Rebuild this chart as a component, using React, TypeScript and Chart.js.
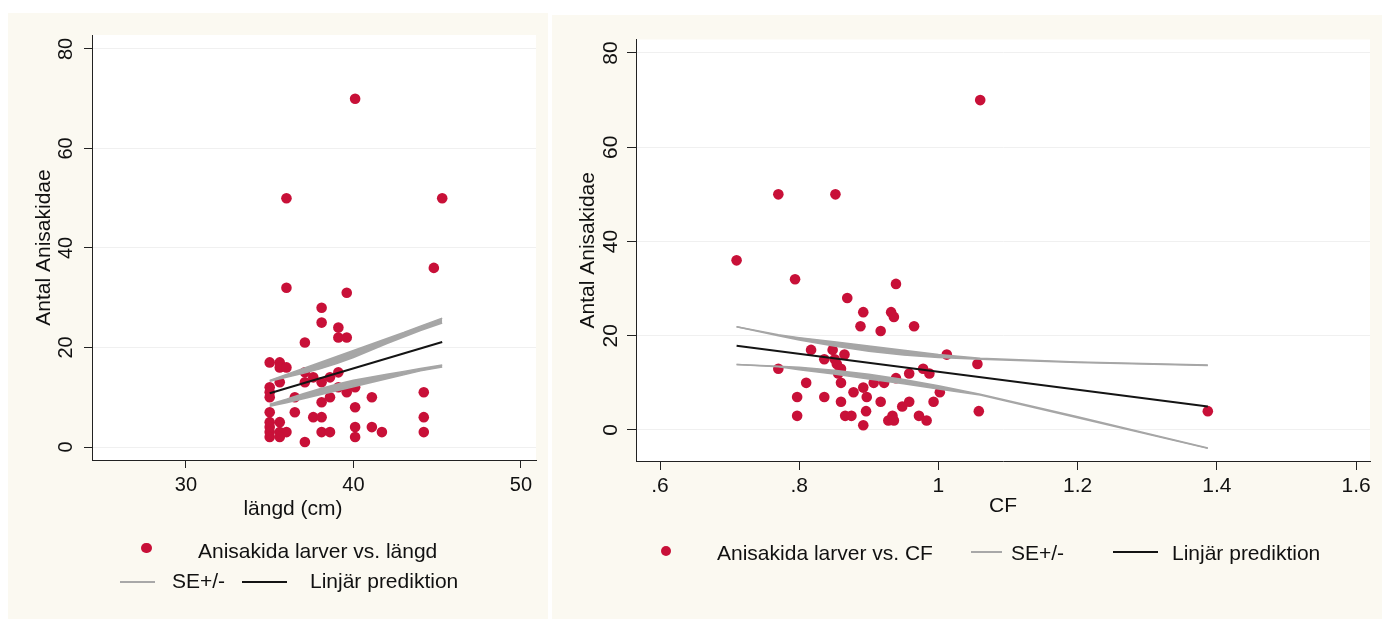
import React, { useEffect, useRef } from 'react';
import { Chart, registerables } from 'chart.js';

Chart.register(...registerables);

// ---------- Left chart data (längd vs Antal) ----------
const LEFT_X = [40.1, 36.0, 45.3, 44.8, 36.0, 39.6, 38.1, 38.1, 39.1, 39.1, 39.6, 37.1,
  35.0, 35.6, 35.6, 36.0, 37.1, 39.1, 37.6, 38.6, 37.1, 35.6, 38.1,
  35.0, 35.0, 35.0, 39.1, 39.6, 40.1, 39.6, 36.5, 38.6, 41.1, 44.2, 38.1, 40.1,
  35.0, 36.5, 37.6, 38.1, 44.2, 35.0, 35.6, 35.0, 40.1, 41.1,
  35.0, 35.6, 36.0, 38.1, 38.6, 41.7, 44.2, 35.0, 35.6, 40.1, 37.1];
const LEFT_Y = [70, 50, 50, 36, 32, 31, 28, 25, 24, 22, 22, 21,
  17, 17, 16, 16, 15, 15, 14, 14, 13, 13, 13,
  12, 11, 10, 12, 12, 12, 11, 10, 10, 10, 11, 9, 8,
  7, 7, 6, 6, 6, 5, 5, 4, 4, 4,
  3, 3, 3, 3, 3, 3, 3, 2, 2, 2, 1];
const LEFT_FIT_X = [35.0, 45.3];
const LEFT_FIT_Y = [10.8, 21.1];
const LEFT_BAND_X = [35, 36, 37, 38, 39, 40, 41, 42, 43, 44, 45.3];
const LEFT_UP_OUTER = [13.4, 14.6, 15.8, 17.0, 18.2, 19.4, 20.6, 21.8, 23.0, 24.3, 25.9];
const LEFT_UP_INNER = [13.2, 14.0, 14.8, 15.7, 16.8, 18.0, 19.4, 20.8, 22.1, 23.4, 24.9];
const LEFT_LO_INNER = [8.6, 9.6, 10.7, 11.7, 12.6, 13.4, 14.0, 14.6, 15.2, 15.8, 16.5];
const LEFT_LO_OUTER = [8.2, 8.9, 9.7, 10.5, 11.3, 12.1, 12.9, 13.7, 14.5, 15.3, 16.1];
const LEFT_X_TICKS = [30, 40, 50];
const LEFT_Y_TICKS = [0, 20, 40, 60, 80];

// ---------- Right chart data (CF vs Antal) ----------
const RIGHT_X = [1.06, 0.77, 0.852, 0.71, 0.794, 0.939, 0.869, 0.892, 0.932, 0.936, 0.888, 0.965, 0.917,
  0.817, 0.848, 0.865, 1.012, 0.836, 0.851, 0.854, 1.056, 0.77, 0.86, 0.978,
  0.958, 0.987, 0.856, 0.939, 0.81, 0.86, 0.907, 0.922, 0.892, 0.878, 1.002,
  0.797, 0.836, 0.897, 0.86, 0.917, 0.958, 0.993, 0.948, 0.896, 1.058, 1.387,
  0.797, 0.866, 0.875, 0.934, 0.972, 0.928, 0.936, 0.983, 0.892];
const RIGHT_Y = [70, 50, 50, 36, 32, 31, 28, 25, 25, 24, 22, 22, 21,
  17, 17, 16, 16, 15, 15, 14, 14, 13, 13, 13,
  12, 12, 12, 11, 10, 10, 10, 10, 9, 8, 8,
  7, 7, 7, 6, 6, 6, 6, 5, 4, 4, 4,
  3, 3, 3, 3, 3, 2, 2, 2, 1];
const RIGHT_FIT_X = [0.71, 1.387];
const RIGHT_FIT_Y = [17.9, 5.0];
const RIGHT_BAND_X = [0.71, 0.77, 0.80, 0.85, 0.90, 0.95, 1.00, 1.06, 1.20, 1.387];
const RIGHT_UP_OUTER = [21.9, 20.2, 19.6, 18.7, 17.8, 16.9, 16.0, 15.2, 14.45, 13.8];
const RIGHT_UP_INNER = [21.9, 20.0, 19.1, 17.8, 16.7, 15.9, 15.4, 15.0, 14.3, 13.7];
const RIGHT_LO_INNER = [13.9, 13.5, 13.3, 12.7, 11.85, 10.7, 9.4, 7.6, 2.8, -3.8];
const RIGHT_LO_OUTER = [13.9, 13.4, 12.8, 11.9, 10.8, 9.8, 8.7, 7.4, 2.6, -3.9];
const RIGHT_X_TICKS = [0.6, 0.8, 1.0, 1.2, 1.4, 1.6];
const RIGHT_X_TICK_LABELS = ['.6', '.8', '1', '1.2', '1.4', '1.6'];
const RIGHT_Y_TICKS = [0, 20, 40, 60, 80];

const Y_TITLE = 'Antal Anisakidae';
const LEFT_X_TITLE = 'längd (cm)';
const RIGHT_X_TITLE = 'CF';

const FONT = '"Liberation Sans", Arial, sans-serif';
const DOT = '#c81038';
const BAND = '#a6a6a6';
const FIT = '#141414';
const INK = '#111111';
const PANEL_BG = '#fbf9f1';

const pts = (xs: number[], ys: number[]) => xs.map((x, i) => ({ x, y: ys[i] }));

const plotBg = {
  id: 'plotBg',
  beforeDraw(chart: any) {
    const { ctx, chartArea: a } = chart;
    ctx.save();
    ctx.fillStyle = '#ffffff';
    ctx.fillRect(a.left, a.top, a.right - a.left, a.bottom - a.top);
    ctx.restore();
  },
};

function lineDs(xs: number[], ys: number[], color: string, width: number, fill: any = false, bg = 'transparent') {
  return {
    type: 'line' as const,
    data: pts(xs, ys),
    borderColor: color,
    borderWidth: width,
    backgroundColor: bg,
    pointRadius: 0,
    tension: 0,
    fill,
  };
}

function buildDatasets(sx: number[], sy: number[], fx: number[], fy: number[], bx: number[],
  uo: number[], ui: number[], li: number[], lo: number[]) {
  return [
    lineDs(fx, fy, FIT, 2),
    lineDs(bx, uo, BAND, 1.5),
    lineDs(bx, ui, BAND, 1.5, '-1', BAND),
    lineDs(bx, li, BAND, 1.5),
    lineDs(bx, lo, BAND, 1.5, '-1', BAND),
    {
      type: 'scatter' as const,
      data: pts(sx, sy),
      pointRadius: 5.3,
      pointBackgroundColor: DOT,
      pointBorderWidth: 0,
      borderColor: DOT,
      backgroundColor: DOT,
    },
  ];
}

interface AxisCfg {
  xmin: number; xmax: number; ymin: number; ymax: number;
  xTicks: number[]; xLabels?: string[]; yTicks: number[];
  yWidth: number; xHeight: number; tickLen: number;
  tickFont: number; yPad: number; xPad: number;
  xTitle: string | null; xTitleBottom: number; yTitlePad: number;
  padding: { top: number; right: number; bottom: number; left: number };
}

function makeOptions(c: AxisCfg) {
  return {
    responsive: false,
    animation: false as const,
    events: [] as any[],
    layout: { padding: c.padding },
    plugins: { legend: { display: false }, tooltip: { enabled: false } },
    scales: {
      x: {
        type: 'linear' as const,
        min: c.xmin,
        max: c.xmax,
        afterBuildTicks: (s: any) => { s.ticks = c.xTicks.map((v) => ({ value: v })); },
        afterFit: (s: any) => { s.height = c.xHeight; },
        ticks: {
          font: { size: c.tickFont, family: FONT },
          color: INK,
          padding: c.xPad,
          maxRotation: 0,
          autoSkip: false,
          callback: (v: any, i: number) => (c.xLabels ? c.xLabels[i] : String(v)),
        },
        grid: { drawOnChartArea: false, drawTicks: true, tickLength: c.tickLen, tickColor: '#222', tickWidth: 1 },
        border: { display: true, color: '#222', width: 1 },
        title: {
          display: !!c.xTitle,
          text: c.xTitle || '',
          color: INK,
          font: { size: 21, family: FONT },
          padding: { top: 0, bottom: c.xTitleBottom },
        },
      },
      y: {
        type: 'linear' as const,
        min: c.ymin,
        max: c.ymax,
        afterBuildTicks: (s: any) => { s.ticks = c.yTicks.map((v) => ({ value: v })); },
        afterFit: (s: any) => { s.width = c.yWidth; },
        ticks: {
          font: { size: c.tickFont, family: FONT },
          color: INK,
          padding: c.yPad,
          minRotation: 90,
          maxRotation: 90,
          crossAlign: 'center' as const,
          autoSkip: false,
        },
        grid: { color: '#f0f0f0', lineWidth: 1, drawTicks: true, tickLength: c.tickLen, tickColor: '#222', tickWidth: 1 },
        border: { display: true, color: '#222', width: 1 },
        title: {
          display: true,
          text: Y_TITLE,
          color: INK,
          font: { size: 21, family: FONT },
          padding: { top: c.yTitlePad, bottom: 0 },
        },
      },
    },
  };
}

const leftXTitle = {
  id: 'leftXTitle',
  afterDraw(chart: any) {
    const { ctx, chartArea: a } = chart;
    ctx.save();
    ctx.font = `21px ${FONT}`;
    ctx.fillStyle = INK;
    ctx.textAlign = 'center';
    ctx.textBaseline = 'middle';
    ctx.fillText(LEFT_X_TITLE, (a.left + a.right) / 2 - 21, a.bottom + 49);
    ctx.restore();
  },
};

function LeftChart() {
  const ref = useRef<HTMLCanvasElement>(null);
  useEffect(() => {
    if (!ref.current) return;
    const chart = new Chart(ref.current, {
      type: 'scatter',
      data: {
        datasets: buildDatasets(LEFT_X, LEFT_Y, LEFT_FIT_X, LEFT_FIT_Y, LEFT_BAND_X,
          LEFT_UP_OUTER, LEFT_UP_INNER, LEFT_LO_INNER, LEFT_LO_OUTER) as any,
      },
      options: makeOptions({
        xmin: 24.39, xmax: 50.9, ymin: -2.61, ymax: 82.8,
        xTicks: LEFT_X_TICKS, yTicks: LEFT_Y_TICKS,
        yWidth: 84, xHeight: 159, tickLen: 8, tickFont: 20, yPad: 6, xPad: 5,
        xTitle: null, xTitleBottom: 0, yTitlePad: 23.4,
        padding: { top: 22, right: 12, bottom: 0, left: 0 },
      }) as any,
      plugins: [plotBg, leftXTitle],
    });
    return () => chart.destroy();
  }, []);
  return <canvas ref={ref} width={540} height={606} style={{ width: 540, height: 606, display: 'block' }} />;
}

function RightChart() {
  const ref = useRef<HTMLCanvasElement>(null);
  useEffect(() => {
    if (!ref.current) return;
    const chart = new Chart(ref.current, {
      type: 'scatter',
      data: {
        datasets: buildDatasets(RIGHT_X, RIGHT_Y, RIGHT_FIT_X, RIGHT_FIT_Y, RIGHT_BAND_X,
          RIGHT_UP_OUTER, RIGHT_UP_INNER, RIGHT_LO_INNER, RIGHT_LO_OUTER) as any,
      },
      options: makeOptions({
        xmin: 0.5655, xmax: 1.62, ymin: -6.58, ymax: 82.86,
        xTicks: RIGHT_X_TICKS, xLabels: RIGHT_X_TICK_LABELS, yTicks: RIGHT_Y_TICKS,
        yWidth: 84, xHeight: 158, tickLen: 9, tickFont: 21, yPad: 4, xPad: 3.4,
        xTitle: RIGHT_X_TITLE, xTitleBottom: 100.4, yTitlePad: 23.4,
        padding: { top: 24.5, right: 12, bottom: 0, left: 0 },
      }) as any,
      plugins: [plotBg],
    });
    return () => chart.destroy();
  }, []);
  return <canvas ref={ref} width={830} height={604} style={{ width: 830, height: 604, display: 'block' }} />;
}

const txt = (left: number, top: number): React.CSSProperties => ({
  position: 'absolute', left, top, font: `21px ${FONT}`, lineHeight: '24px', color: INK, whiteSpace: 'nowrap',
});
const dot = (cx: number, cy: number): React.CSSProperties => ({
  position: 'absolute', left: cx - 5.3, top: cy - 5.3, width: 10.6, height: 10.6, borderRadius: '50%', background: DOT,
});
const seg = (x1: number, x2: number, y: number, color: string, h: number): React.CSSProperties => ({
  position: 'absolute', left: x1, top: y - h / 2, width: x2 - x1, height: h, background: color,
});

export default function App() {
  return (
    <div style={{ position: 'fixed', left: 0, top: 0, width: 1382, height: 619, background: '#ffffff', overflow: 'hidden' }}>
      <div style={{ position: 'absolute', left: 8, top: 13, width: 540, height: 606, background: PANEL_BG }}>
        <LeftChart />
      </div>
      <div style={{ position: 'absolute', left: 552, top: 15, width: 830, height: 604, background: PANEL_BG }}>
        <RightChart />
      </div>

      {/* Left legend */}
      <div style={dot(146.5, 548)} />
      <div style={txt(198, 538.5)}>Anisakida larver vs. längd</div>
      <div style={seg(120, 155, 581.5, '#a8a8a8', 2)} />
      <div style={txt(172, 568.5)}>SE+/-</div>
      <div style={seg(242, 287, 581.5, FIT, 2)} />
      <div style={txt(310, 568.5)}>Linjär prediktion</div>

      {/* Right legend */}
      <div style={dot(666, 551)} />
      <div style={txt(717, 540.5)}>Anisakida larver vs. CF</div>
      <div style={seg(971, 1002, 552, '#a8a8a8', 2)} />
      <div style={txt(1011, 540.5)}>SE+/-</div>
      <div style={seg(1113, 1158, 552, FIT, 2)} />
      <div style={txt(1172, 540.5)}>Linjär prediktion</div>
    </div>
  );
}
